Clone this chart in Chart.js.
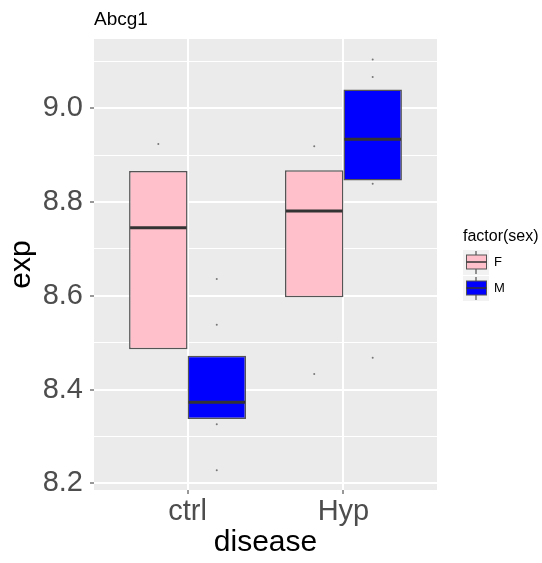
<!DOCTYPE html>
<html>
<head>
<meta charset="utf-8">
<script src="https://cdn.jsdelivr.net/npm/chart.js@4/dist/chart.umd.min.js"></script>
<style>
  html, body { margin: 0; padding: 0; background: #ffffff; }
  #wrap { position: relative; width: 542px; height: 563px; }
</style>
</head>
<body>
<div id="wrap"><canvas id="c" width="542" height="563"></canvas></div>
<script>
// Abcg1 expression by disease group, split by sex
const diseases = ['ctrl', 'Hyp'];
const sexes = ['F', 'M'];

// box statistics (lower hinge, median, upper hinge) per disease
const lowerF  = [8.486, 8.597];
const medianF = [8.745, 8.781];
const upperF  = [8.866, 8.868];
const lowerM  = [8.337, 8.846];
const medianM = [8.373, 8.934];
const upperM  = [8.472, 9.040];

// individual observations per disease
const obsF = [[8.924], [8.919, 8.433]];
const obsM = [[8.636, 8.538, 8.326, 8.228], [9.104, 9.067, 8.839, 8.468]];

// axis ticks
const yMajor = [8.2, 8.4, 8.6, 8.8, 9.0];
const yMinor = [8.3, 8.5, 8.7, 8.9, 9.1];

const FILLS = { F: 'pink', M: 'blue' };
const BOX_EDGE = '#555555';
const DODGE = 0.75;                 // total dodge width per disease
const half = DODGE / 4;             // offset of each box centre

function boxData(lo, hi) {
  return diseases.map((d, i) => ({ x: i + 1, y: [lo[i], hi[i]] }));
}
function pointData(obs, sign) {
  const out = [];
  obs.forEach((vals, i) => vals.forEach(v => out.push({ x: i + 1 + sign * half, y: v })));
  return out;
}
const medians = [medianF, medianM];

const isMajor = v => yMajor.some(m => Math.abs(m - v) < 1e-6);

// panel background
const panelBg = {
  id: 'panelBg',
  beforeDraw(chart) {
    const { ctx, chartArea: a } = chart;
    ctx.save();
    ctx.fillStyle = '#EBEBEB';
    ctx.fillRect(a.left, a.top, a.right - a.left, a.bottom - a.top);
    ctx.restore();
  }
};

// median line across each box
const medianLines = {
  id: 'medianLines',
  afterDatasetsDraw(chart) {
    const { ctx } = chart;
    const y = chart.scales.y;
    ctx.save();
    ctx.strokeStyle = '#333333';
    ctx.lineWidth = 3;
    [0, 1].forEach(di => {
      const meta = chart.getDatasetMeta(di);
      meta.data.forEach((bar, i) => {
        const py = y.getPixelForValue(medians[di][i]);
        const w = bar.width;
        ctx.beginPath();
        ctx.moveTo(bar.x - w / 2 + 1, py);
        ctx.lineTo(bar.x + w / 2 - 1, py);
        ctx.stroke();
      });
    });
    ctx.restore();
  }
};

// plot title and legend
const annotations = {
  id: 'annotations',
  afterDraw(chart) {
    const { ctx, chartArea: a } = chart;
    ctx.save();
    ctx.fillStyle = '#000000';
    ctx.font = '19px "Liberation Sans", Arial, sans-serif';
    ctx.textBaseline = 'middle';
    ctx.textAlign = 'left';
    ctx.fillText('Abcg1', a.left, 20);

    // legend
    ctx.font = '16px "Liberation Sans", Arial, sans-serif';
    ctx.fillText('factor(sex)', 463, 237);
    const keyX = 463, keySize = 26;
    sexes.forEach((s, k) => {
      const ky = 250 + k * 26;
      ctx.fillStyle = '#F2F2F2';
      ctx.fillRect(keyX, ky, keySize, keySize - 1);
      const cx = keyX + keySize / 2;
      ctx.strokeStyle = '#333333';
      ctx.lineWidth = 1;
      ctx.beginPath();
      ctx.moveTo(cx, ky + 1); ctx.lineTo(cx, ky + keySize - 2);
      ctx.stroke();
      ctx.fillStyle = FILLS[s];
      ctx.fillRect(keyX + 3.5, ky + 5, 20, 14);
      ctx.strokeStyle = BOX_EDGE;
      ctx.strokeRect(keyX + 3.5, ky + 5, 20, 14);
      ctx.strokeStyle = '#333333';
      ctx.lineWidth = 1.5;
      ctx.beginPath();
      ctx.moveTo(keyX + 3.5, ky + 12); ctx.lineTo(keyX + 23.5, ky + 12);
      ctx.stroke();
      ctx.fillStyle = '#000000';
      ctx.font = '13px "Liberation Sans", Arial, sans-serif';
      ctx.fillText(s, 494, ky + 12.5);
    });
    ctx.restore();
  }
};

new Chart(document.getElementById('c'), {
  type: 'bar',
  data: {
    datasets: [
      {
        label: 'F', data: boxData(lowerF, upperF), backgroundColor: FILLS.F,
        borderColor: BOX_EDGE, borderWidth: 1.5, borderSkipped: false, order: 1
      },
      {
        label: 'M', data: boxData(lowerM, upperM), backgroundColor: FILLS.M,
        borderColor: BOX_EDGE, borderWidth: 1.5, borderSkipped: false, order: 1
      },
      {
        type: 'scatter', label: 'obsF', data: pointData(obsF, -1),
        pointRadius: 1, pointBackgroundColor: 'rgba(70,70,70,0.7)', pointBorderWidth: 0, order: 2
      },
      {
        type: 'scatter', label: 'obsM', data: pointData(obsM, 1),
        pointRadius: 1, pointBackgroundColor: 'rgba(70,70,70,0.7)', pointBorderWidth: 0, order: 2
      }
    ]
  },
  options: {
    responsive: false,
    animation: false,
    events: [],
    categoryPercentage: DODGE,
    barPercentage: 1.0,
    layout: { padding: { top: 39, right: 105, bottom: 0, left: 0 } },
    plugins: { legend: { display: false }, tooltip: { enabled: false } },
    scales: {
      x: {
        type: 'linear', min: 0.4, max: 2.6, offset: false,
        afterBuildTicks(scale) { scale.ticks = diseases.map((d, i) => ({ value: i + 1 })); },
        afterFit(scale) { scale.height = 73; },
        border: { display: false },
        grid: { offset: false, color: '#FFFFFF', lineWidth: 2, drawTicks: true, tickLength: 4, tickColor: '#333333', tickWidth: 1 },
        ticks: {
          autoSkip: false, padding: 1, color: '#4D4D4D',
          font: { family: '"Liberation Sans", Arial, sans-serif', size: 29 },
          callback: v => diseases[Math.round(v) - 1] || ''
        },
        title: {
          display: true, text: 'disease', color: '#000000',
          font: { family: '"Liberation Sans", Arial, sans-serif', size: 30 },
          padding: { top: 0, bottom: 2 }
        }
      },
      y: {
        type: 'linear', min: 8.1857, max: 9.1478, beginAtZero: false,
        afterBuildTicks(scale) {
          scale.ticks = yMajor.concat(yMinor).sort((a, b) => a - b).map(v => ({ value: v }));
        },
        afterFit(scale) { scale.width = 94; },
        border: { display: false },
        grid: {
          color: '#FFFFFF',
          lineWidth: c => (isMajor(c.tick.value) ? 2 : 1),
          drawTicks: true, tickLength: 4, tickWidth: 1,
          tickColor: c => (isMajor(c.tick.value) ? '#333333' : 'rgba(0,0,0,0)')
        },
        ticks: {
          autoSkip: false, padding: 7, color: '#4D4D4D',
          font: { family: '"Liberation Sans", Arial, sans-serif', size: 29 },
          callback: v => (isMajor(v) ? v.toFixed(1) : '')
        },
        title: {
          display: true, text: 'exp', color: '#000000',
          font: { family: '"Liberation Sans", Arial, sans-serif', size: 30 },
          padding: { top: 4, bottom: 0 }
        }
      }
    }
  },
  plugins: [panelBg, medianLines, annotations]
});
</script>
</body>
</html>
